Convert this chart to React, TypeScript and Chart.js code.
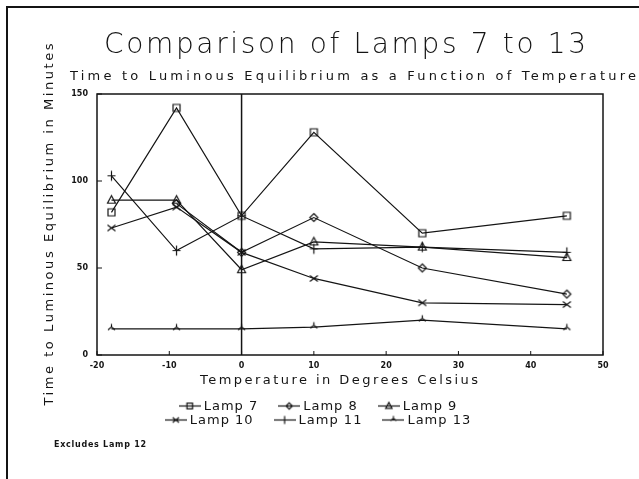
import React, { useEffect, useRef } from 'react';
import { Chart, registerables } from 'chart.js';

Chart.register(...registerables);

// ---- data ----
const temperatures = [-18, -9, 0, 10, 25, 45];
const lamp7 = [82, 142, 80, 128, 70, 80];
const lamp8 = [null, 87, 59, 79, 50, 35];
const lamp9 = [89, 89, 49, 65, 62, 56];
const lamp10 = [73, 85, 59, 44, 30, 29];
const lamp11 = [103, 60, 80, 61, 62, 59];
const lamp13 = [15, 15, 15, 16, 20, 15];
const seriesLabels = ['Lamp 7', 'Lamp 8', 'Lamp 9', 'Lamp 10', 'Lamp 11', 'Lamp 13'];
const seriesValues = [lamp7, lamp8, lamp9, lamp10, lamp11, lamp13];
const seriesMarkers = ['square', 'diamond', 'triangle', 'x', 'plus', 'tent'];
const xTicks = [-20, -10, 0, 10, 20, 30, 40, 50];
const yTicks = [0, 50, 100, 150];
const titleText = 'Comparison of Lamps 7 to 13';
const subtitleText = 'Time to Luminous Equilibrium as a Function of Temperature';
const xTitleText = 'Temperature in Degrees Celsius';
const yTitleText = 'Time to Luminous Equilibrium in Minutes';
const footnoteText = 'Excludes Lamp 12';

const INK = '#141414';
const FONT = '"DejaVu Sans", "Liberation Sans", sans-serif';

function drawShape(g: CanvasRenderingContext2D, kind: string, cx: number, cy: number, s: number) {
  g.beginPath();
  switch (kind) {
    case 'square':
      g.rect(cx - 3.5 * s, cy - 3.5 * s, 7 * s, 7 * s);
      break;
    case 'diamond':
      g.moveTo(cx, cy - 4 * s);
      g.lineTo(cx + 4 * s, cy);
      g.lineTo(cx, cy + 4 * s);
      g.lineTo(cx - 4 * s, cy);
      g.closePath();
      break;
    case 'triangle':
      g.moveTo(cx, cy - 4.5 * s);
      g.lineTo(cx + 4 * s, cy + 3 * s);
      g.lineTo(cx - 4 * s, cy + 3 * s);
      g.closePath();
      break;
    case 'x':
      g.moveTo(cx - 4 * s, cy - 3 * s);
      g.lineTo(cx + 4 * s, cy + 3 * s);
      g.moveTo(cx + 4 * s, cy - 3 * s);
      g.lineTo(cx - 4 * s, cy + 3 * s);
      break;
    case 'plus':
      g.moveTo(cx - 4 * s, cy);
      g.lineTo(cx + 4 * s, cy);
      g.moveTo(cx, cy - 5 * s);
      g.lineTo(cx, cy + 5 * s);
      break;
    case 'tent':
      g.moveTo(cx, cy - 5 * s);
      g.lineTo(cx, cy - 2 * s);
      g.moveTo(cx - 3.5 * s, cy + 1 * s);
      g.lineTo(cx, cy - 2 * s);
      g.lineTo(cx + 3.5 * s, cy + 1 * s);
      break;
  }
  g.stroke();
}

function makeMarker(kind: string, withLine: boolean): HTMLCanvasElement {
  const c = document.createElement('canvas');
  c.width = withLine ? 22 : 13;
  c.height = 13;
  const g = c.getContext('2d') as CanvasRenderingContext2D;
  g.strokeStyle = INK;
  g.lineWidth = 1.2;
  const cx = c.width / 2;
  const cy = c.height / 2;
  if (withLine) {
    g.beginPath();
    g.moveTo(0, cy);
    g.lineTo(c.width, cy);
    g.stroke();
  }
  drawShape(g, kind, cx, cy, withLine ? 0.8 : 1);
  return c;
}

function spacedText(
  ctx: CanvasRenderingContext2D,
  text: string,
  cx: number,
  cy: number,
  width: number,
  font: string
) {
  ctx.save();
  ctx.font = font;
  (ctx as any).letterSpacing = '0px';
  const natural = ctx.measureText(text).width;
  const ls = Math.max(0, (width - natural) / Math.max(1, text.length - 1));
  (ctx as any).letterSpacing = ls + 'px';
  ctx.textAlign = 'left';
  ctx.textBaseline = 'middle';
  ctx.fillStyle = INK;
  ctx.fillText(text, cx - width / 2, cy);
  ctx.restore();
}

export default function App() {
  const ref = useRef<HTMLCanvasElement | null>(null);

  useEffect(() => {
    const canvas = ref.current;
    if (!canvas) return;
    const pointImages = seriesMarkers.map((m) => makeMarker(m, false));
    const legendImages = seriesMarkers.map((m) => makeMarker(m, true));

    const datasets = seriesLabels.map((label, i) => ({
      label,
      data: temperatures
        .map((t, j) => ({ x: t, y: seriesValues[i][j] }))
        .filter((p) => p.y !== null && p.y !== undefined),
      borderColor: INK,
      backgroundColor: 'transparent',
      borderWidth: 1.2,
      tension: 0,
      pointStyle: pointImages[i] as any,
      pointRadius: 5,
      clip: false as any,
    }));

    const decor = {
      id: 'decor',
      beforeDatasetsDraw(chart: any) {
        const { ctx, chartArea: a, scales } = chart;
        ctx.save();
        ctx.strokeStyle = INK;
        ctx.lineWidth = 1.5;
        ctx.strokeRect(a.left, a.top, a.right - a.left, a.bottom - a.top);
        const x0 = scales.x.getPixelForValue(0);
        ctx.beginPath();
        ctx.moveTo(x0, a.top);
        ctx.lineTo(x0, a.bottom);
        ctx.stroke();
        ctx.lineWidth = 1;
        ctx.beginPath();
        for (const v of xTicks) {
          const px = scales.x.getPixelForValue(v);
          ctx.moveTo(px, a.bottom);
          ctx.lineTo(px, a.bottom - 4);
        }
        for (const v of yTicks) {
          const py = scales.y.getPixelForValue(v);
          ctx.moveTo(a.left, py);
          ctx.lineTo(a.left + 5, py);
        }
        ctx.stroke();
        ctx.restore();
      },
      afterDraw(chart: any) {
        const { ctx, chartArea: a } = chart;
        // outer scan frame
        ctx.save();
        ctx.strokeStyle = INK;
        ctx.lineWidth = 2;
        ctx.beginPath();
        ctx.moveTo(7, 479);
        ctx.lineTo(7, 7);
        ctx.lineTo(639, 7);
        ctx.stroke();
        ctx.restore();

        spacedText(ctx, titleText, 345, 46, 482, `300 28px ${FONT}`);
        spacedText(ctx, subtitleText, 353, 77, 566, `13px ${FONT}`);
        spacedText(ctx, xTitleText, 339, 381, 278, `13px ${FONT}`);
        ctx.save();
        ctx.translate(50, (a.top + a.bottom) / 2);
        ctx.rotate(-Math.PI / 2);
        spacedText(ctx, yTitleText, 0, 0, 362, `13px ${FONT}`);
        ctx.restore();
        spacedText(ctx, footnoteText, 100, 445, 92, `bold 8px ${FONT}`);

        // legend (two rows of three)
        const rows = [
          [0, 1, 2],
          [3, 4, 5],
        ];
        const rowY = [406, 420];
        const gap = 20;
        const legendCenter = 318;
        ctx.save();
        ctx.font = `13px ${FONT}`;
        (ctx as any).letterSpacing = '1px';
        ctx.textBaseline = 'middle';
        ctx.textAlign = 'left';
        ctx.fillStyle = INK;
        rows.forEach((row, r) => {
          const widths = row.map((i) => 22 + 3 + ctx.measureText(chart.data.datasets[i].label).width);
          const total = widths.reduce((s, w) => s + w, 0) + gap * (row.length - 1);
          let x = legendCenter - total / 2;
          row.forEach((i, k) => {
            const img = legendImages[i];
            ctx.drawImage(img, x, rowY[r] - img.height / 2);
            ctx.fillText(chart.data.datasets[i].label, x + 25, rowY[r] + 0.5);
            x += widths[k] + gap;
          });
        });
        ctx.restore();
      },
    };

    const chart = new Chart(canvas, {
      type: 'line',
      data: { datasets: datasets as any },
      options: {
        responsive: false,
        animation: false,
        layout: { padding: { top: 94, right: 36, left: 0, bottom: 0 } },
        plugins: {
          legend: { display: false },
          title: { display: false },
          tooltip: { enabled: false },
        },
        scales: {
          x: {
            type: 'linear',
            min: -20,
            max: 50,
            afterFit: (s: any) => {
              s.height = 124;
            },
            grid: { display: false, drawTicks: false },
            border: { display: false },
            ticks: {
              stepSize: 10,
              autoSkip: false,
              maxRotation: 0,
              padding: 6,
              color: INK,
              font: { family: FONT, size: 8, weight: 'bold' },
            },
          },
          y: {
            type: 'linear',
            min: 0,
            max: 150,
            afterFit: (s: any) => {
              s.width = 97;
            },
            grid: { display: false, drawTicks: false },
            border: { display: false },
            ticks: {
              stepSize: 50,
              padding: 9,
              color: INK,
              font: { family: FONT, size: 8, weight: 'bold' },
            },
          },
        },
      },
      plugins: [decor],
    });
    return () => chart.destroy();
  }, []);

  return (
    <div style={{ position: 'fixed', left: 0, top: 0, width: 639, height: 479, background: '#fff' }}>
      <canvas ref={ref} width={639} height={479} style={{ display: 'block', width: 639, height: 479 }} />
    </div>
  );
}
